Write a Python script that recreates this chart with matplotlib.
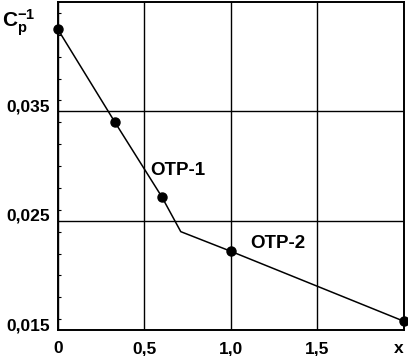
import matplotlib

matplotlib.use("Agg")
import matplotlib.pyplot as plt
from matplotlib.ticker import MultipleLocator

plt.rcParams.update({
    "font.family": ["Liberation Sans", "DejaVu Sans"],
    "font.weight": "bold",
    "font.size": 12.5,
    "mathtext.fontset": "custom",
    "mathtext.bf": "Liberation Sans:bold",
    "mathtext.rm": "Liberation Sans:bold",
})

# curve (kink at ~0.71 has no marker)
line_x = [0.0, 0.33, 0.60, 0.71, 1.00, 2.00]
line_y = [0.0425, 0.0340, 0.0272, 0.0240, 0.0222, 0.0158]
mark_x = [0.0, 0.33, 0.60, 1.00, 2.00]
mark_y = [0.0425, 0.0340, 0.0272, 0.0222, 0.0158]

x_ticks = [0.0, 0.5, 1.0, 1.5, 2.0]
x_labels = ["0", "0,5", "1,0", "1,5", "x"]
y_ticks = [0.015, 0.025, 0.035]
y_labels = ["0,015", "0,025", "0,035"]

fig = plt.figure(figsize=(4.08, 3.56), dpi=100)
ax = fig.add_axes([0.142, 0.073, 0.848, 0.921])

ax.plot(line_x, line_y, color="black", linewidth=1.1, zorder=3)
ax.plot(mark_x, mark_y, "o", color="black", markersize=6.5, zorder=4, clip_on=False)

ax.set_xlim(0, 2.0)
ax.set_ylim(0.015, 0.045)
ax.set_xticks(x_ticks)
ax.set_xticklabels(x_labels)
ax.set_yticks(y_ticks)
ax.set_yticklabels(y_labels, va="baseline")
ax.get_xticklabels()[-1].set_ha("right")
ax.yaxis.set_minor_locator(MultipleLocator(0.002))
ax.tick_params(axis="both", which="major", length=0)
ax.tick_params(axis="y", which="major", pad=6)
ax.tick_params(axis="x", which="major", pad=8)
ax.tick_params(axis="y", which="minor", direction="in", length=2, width=0.8)

ax.grid(which="major", color="black", linewidth=1.0)
for s in ax.spines.values():
    s.set_linewidth(1.4)

ax.text(0.533, 0.0296, "OTP-1", fontsize=13.5, va="center")
ax.text(1.113, 0.0229, "OTP-2", fontsize=13.5, va="center")
fig.text(0.004, 0.922, r"$\mathbf{C_p^{-1}}$", fontsize=15)

fig.savefig("out.png", dpi=100)
